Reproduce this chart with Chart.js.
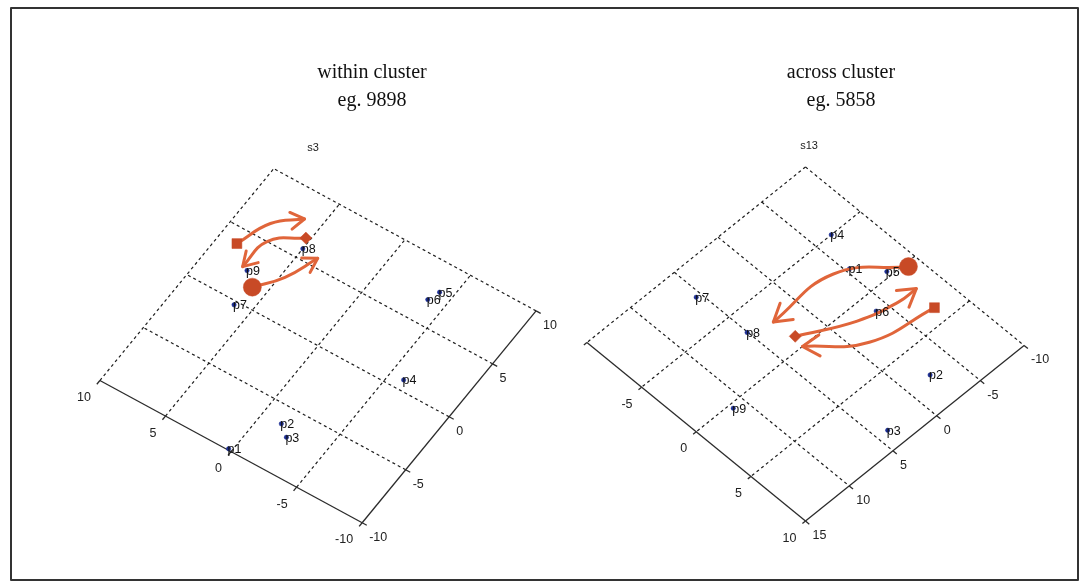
<!DOCTYPE html>
<html>
<head>
<meta charset="utf-8">
<style>
  html, body { margin: 0; padding: 0; background: #fff; }
  canvas { display: block; }
</style>
<script src="https://cdn.jsdelivr.net/npm/chart.js@4.4.0/dist/chart.umd.min.js"></script>
</head>
<body>
<canvas id="chart" width="1080" height="584"></canvas>
<script>
// ---------- data ----------
const pointNames = ['p1', 'p2', 'p3', 'p4', 'p5', 'p6', 'p7', 'p8', 'p9'];

// s3 plane (within cluster): coordinates along the two ground axes
const s3A = [0.25, -1.45, -2.3, -6.0, -4.1, -3.8, 6.2, 5.0, 7.0];
const s3B = [-9.9, -6.4, -7.1, 0.8, 7.8, 6.9, -0.3, 5.8, 2.4];
const s3ATicks = [10, 5, 0, -5, -10];
const s3BTicks = [-10, -5, 0, 5, 10];
const s3ALabels = [10, 5, 0, -5, -10];
const s3BLabels = [-10, -5, 0, 5, 10];
// highlighted states: circle, square, diamond
const s3MarkA = [6.0, 8.7, 5.3];
const s3MarkB = [1.5, 3.8, 6.6];
// transition arrows (start, bend, tip)
const s3Arrow1A = [8.7, 7.8, 6.2],  s3Arrow1B = [3.8, 6.3, 7.8];
const s3Arrow2A = [5.3, 7.2, 7.4],  s3Arrow2B = [6.6, 5.0, 2.5];
const s3Arrow3A = [6.0, 4.7, 3.8],  s3Arrow3B = [1.5, 3.3, 5.7];

// s13 plane (across cluster)
const s13A = [-2.25, 7.4, 8.6, -5.0, -0.4, 1.35, -7.6, -3.3, 0.35];
const s13B = [-5.35, -2.5, 3.85, -6.7, -7.3, -3.9, 5.5, 5.05, 11.2];
const s13ATicks = [-10, -5, 0, 5, 10];
const s13BTicks = [15, 10, 5, 0, -5, -10];
const s13ALabels = [-5, 0, 5, 10];
const s13BLabels = [15, 10, 5, 0, -5, -10];
const s13MarkA = [0.3, 3.8, -0.9];
const s13MarkB = [-8.9, -7.5, 2.55];
const s13Arrow1A = [0.3, -2.7, -2.7],          s13Arrow1B = [-8.9, -4.0, 2.8];
const s13Arrow2A = [-0.9, 1.05, 1.85, 1.9],    s13Arrow2B = [2.55, -2.1, -5.85, -7.8];
const s13Arrow3A = [3.8, 2.8, 0.0],            s13Arrow3B = [-7.5, -1.3, 2.85];

// ---------- view projections (ground plane seen from above at an angle) ----------
const views = {
  s3:  { o: [314, 347.5], ea: [-13.35, -7.35], eb: [8.85, -10.95] },
  s13: { o: [832.5, 327.6], ea: [11.125, 9.225], eb: [-8.9, 7.26] }
};
function proj(v, a, b) {
  return { x: v.o[0] + a * v.ea[0] + b * v.eb[0], y: v.o[1] + a * v.ea[1] + b * v.eb[1] };
}
function zipProj(v, as, bs) { return as.map((a, i) => proj(v, a, bs[i])); }

const ORANGE = '#e0653a';
const MARK = '#c84a26';
const BLUE = '#1d2f94';
const INK = '#222';
const TICK = 0.35;

const panels = [
  {
    view: views.s3, a: s3A, b: s3B,
    aRange: [-10, 10], bRange: [-10, 10],
    aAxisB: -10, aOut: -1, bAxisA: -10, bOut: -1,
    aTicks: s3ATicks, bTicks: s3BTicks, aLabels: s3ALabels, bLabels: s3BLabels,
    markA: s3MarkA, markB: s3MarkB,
    arrows: [[s3Arrow1A, s3Arrow1B], [s3Arrow2A, s3Arrow2B], [s3Arrow3A, s3Arrow3B]],
    head: 16,
    title: ['within cluster', 'eg. 9898'], titleX: 372,
    name: 's3', nameX: 313, nameY: 148
  },
  {
    view: views.s13, a: s13A, b: s13B,
    aRange: [-10, 10], bRange: [-10, 15],
    aAxisB: 15, aOut: 1, bAxisA: 10, bOut: 1,
    aTicks: s13ATicks, bTicks: s13BTicks, aLabels: s13ALabels, bLabels: s13BLabels,
    markA: s13MarkA, markB: s13MarkB,
    arrows: [[s13Arrow1A, s13Arrow1B], [s13Arrow2A, s13Arrow2B], [s13Arrow3A, s13Arrow3B]],
    head: 20,
    title: ['across cluster', 'eg. 5858'], titleX: 841,
    name: 's13', nameX: 809, nameY: 146
  }
];

// ---------- datasets ----------
function segment(pts, solid) {
  return {
    data: pts, showLine: true, pointRadius: 0, borderColor: solid ? '#2b2b2b' : '#1e1e1e',
    borderWidth: solid ? 1.3 : 1.2, borderDash: solid ? [] : [3, 3], tension: 0,
    clip: false, order: 6
  };
}
const datasets = [];
panels.forEach(pn => {
  const v = pn.view;
  pn.aTicks.forEach(a => datasets.push(segment([proj(v, a, pn.bRange[0]), proj(v, a, pn.bRange[1])], a === pn.bAxisA)));
  pn.bTicks.forEach(b => datasets.push(segment([proj(v, pn.aRange[0], b), proj(v, pn.aRange[1], b)], b === pn.aAxisB)));
  pn.aTicks.forEach(a => datasets.push(segment([proj(v, a, pn.aAxisB), proj(v, a, pn.aAxisB + pn.aOut * TICK)], true)));
  pn.bTicks.forEach(b => datasets.push(segment([proj(v, pn.bAxisA, b), proj(v, pn.bAxisA + pn.bOut * TICK, b)], true)));

  datasets.push({
    data: zipProj(v, pn.a, pn.b), showLine: false, pointRadius: 2.2, pointHoverRadius: 2.2,
    pointBackgroundColor: BLUE, pointBorderColor: BLUE, pointBorderWidth: 0.5,
    clip: false, order: 4, pointNames: pointNames
  });
  pn.arrows.forEach(([as, bs]) => datasets.push({
    data: zipProj(v, as, bs), showLine: true, pointRadius: 0, borderColor: ORANGE,
    borderWidth: 3, tension: 0.45, borderCapStyle: 'round', clip: false, order: 2,
    arrowHead: pn.head
  }));
  datasets.push({
    data: zipProj(v, pn.markA, pn.markB), showLine: false,
    pointStyle: ['circle', 'rect', 'rectRot'], pointRadius: [9, 7, 6],
    pointBackgroundColor: MARK, pointBorderColor: MARK, pointBorderWidth: 0.5,
    clip: false, order: 1
  });
});

// ---------- decorations: arrowheads, labels, titles, frame ----------
const decor = {
  id: 'decor',
  beforeDraw(chart) {
    const ctx = chart.ctx;
    ctx.save();
    ctx.fillStyle = '#fff';
    ctx.fillRect(0, 0, chart.width, chart.height);
    ctx.restore();
  },
  afterDatasetsDraw(chart) {
    const ctx = chart.ctx;
    const sx = chart.scales.x, sy = chart.scales.y;
    const px = p => ({ x: sx.getPixelForValue(p.x), y: sy.getPixelForValue(p.y) });
    ctx.save();

    // arrowheads
    chart.data.datasets.forEach((ds, i) => {
      if (!ds.arrowHead) return;
      const pts = chart.getDatasetMeta(i).data;
      const tip = pts[pts.length - 1], prev = pts[pts.length - 2];
      const ang = Math.atan2(tip.y - prev.y, tip.x - prev.x);
      const L = ds.arrowHead, h = 0.55;
      ctx.strokeStyle = ORANGE; ctx.lineWidth = 3;
      ctx.lineCap = 'round'; ctx.lineJoin = 'round';
      ctx.beginPath();
      ctx.moveTo(tip.x - L * Math.cos(ang - h), tip.y - L * Math.sin(ang - h));
      ctx.lineTo(tip.x, tip.y);
      ctx.lineTo(tip.x - L * Math.cos(ang + h), tip.y - L * Math.sin(ang + h));
      ctx.stroke();
    });

    // point names
    ctx.fillStyle = '#111';
    ctx.font = '12.5px "Liberation Sans", Arial, sans-serif';
    ctx.textAlign = 'left'; ctx.textBaseline = 'alphabetic';
    chart.data.datasets.forEach((ds, i) => {
      if (!ds.pointNames) return;
      chart.getDatasetMeta(i).data.forEach((el, k) => ctx.fillText(ds.pointNames[k], el.x - 1, el.y + 4.5));
    });

    // axis tick labels and panel text
    panels.forEach(pn => {
      const v = pn.view;
      ctx.fillStyle = INK;
      ctx.font = '12.5px "Liberation Sans", Arial, sans-serif';
      ctx.textBaseline = 'middle';
      ctx.textAlign = 'right';
      pn.aLabels.forEach(a => {
        const p = px(proj(v, a, pn.aAxisB));
        ctx.fillText(String(a), p.x - 9, p.y + 17);
      });
      ctx.textAlign = 'left';
      pn.bLabels.forEach(b => {
        const p = px(proj(v, pn.bAxisA, b));
        ctx.fillText(String(b), p.x + 7, p.y + 14.5);
      });

      ctx.textAlign = 'center';
      ctx.font = '11px "Liberation Sans", Arial, sans-serif';
      ctx.fillText(pn.name, pn.nameX, pn.nameY);

      ctx.fillStyle = '#111';
      ctx.textBaseline = 'alphabetic';
      ctx.font = '20px "Liberation Serif", "Times New Roman", serif';
      ctx.fillText(pn.title[0], pn.titleX, 78);
      ctx.fillText(pn.title[1], pn.titleX, 106);
    });

    // outer frame
    ctx.strokeStyle = '#333';
    ctx.lineWidth = 2;
    ctx.strokeRect(11, 8, 1067, 572);
    ctx.restore();
  }
};

new Chart(document.getElementById('chart'), {
  type: 'scatter',
  data: { datasets },
  options: {
    responsive: false,
    animation: false,
    devicePixelRatio: 1,
    layout: { padding: 0 },
    events: [],
    plugins: { legend: { display: false }, tooltip: { enabled: false } },
    scales: {
      x: { type: 'linear', min: 0, max: 1080, display: false },
      y: { type: 'linear', min: 0, max: 584, reverse: true, display: false }
    }
  },
  plugins: [decor]
});
</script>
</body>
</html>
